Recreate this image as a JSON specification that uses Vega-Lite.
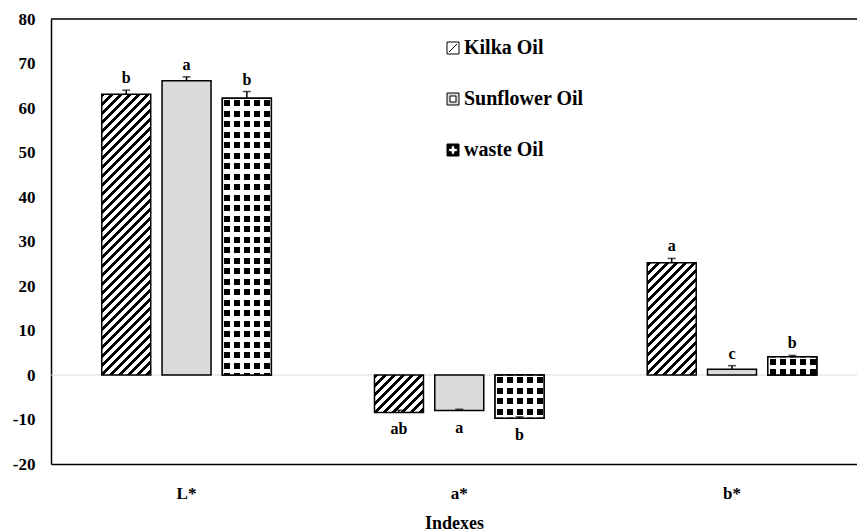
{
"$schema":"https://vega.github.io/schema/vega-lite/v6.json",
"width":806,"height":445,
"autosize":{"type":"none"},
"padding":{"left":51,"top":19,"right":0,"bottom":68},
"background":"white",
"config":{"view":{"stroke":null},"font":"Liberation Serif",
"axisX":{"domainColor":"black","domainWidth":1.5,"ticks":false,"tickSize":0,"labelFontSize":17,"labelFontWeight":"bold","labelColor":"black","labelPadding":21,"labelAngle":0,"titleFontSize":18,"titleFontWeight":"bold","titleColor":"black","titlePadding":13,"grid":false},
"axisY":{"domainColor":"black","domainWidth":1.5,"ticks":false,"tickSize":0,"labelFontSize":17,"labelFontWeight":"bold","labelColor":"black","labelPadding":16,"grid":false}},
"params":[
{"name":"hatch","value":[
{"offset":0,"color":"#000"},{"offset":0.011,"color":"#000"},{"offset":0.011,"color":"#fff"},{"offset":0.025,"color":"#fff"},
{"offset":0.025,"color":"#000"},{"offset":0.036,"color":"#000"},{"offset":0.036,"color":"#fff"},{"offset":0.05,"color":"#fff"},
{"offset":0.05,"color":"#000"},{"offset":0.061,"color":"#000"},{"offset":0.061,"color":"#fff"},{"offset":0.075,"color":"#fff"},
{"offset":0.075,"color":"#000"},{"offset":0.086,"color":"#000"},{"offset":0.086,"color":"#fff"},{"offset":0.1,"color":"#fff"},
{"offset":0.1,"color":"#000"},{"offset":0.111,"color":"#000"},{"offset":0.111,"color":"#fff"},{"offset":0.125,"color":"#fff"},
{"offset":0.125,"color":"#000"},{"offset":0.136,"color":"#000"},{"offset":0.136,"color":"#fff"},{"offset":0.15,"color":"#fff"},
{"offset":0.15,"color":"#000"},{"offset":0.161,"color":"#000"},{"offset":0.161,"color":"#fff"},{"offset":0.175,"color":"#fff"},
{"offset":0.175,"color":"#000"},{"offset":0.186,"color":"#000"},{"offset":0.186,"color":"#fff"},{"offset":0.2,"color":"#fff"},
{"offset":0.2,"color":"#000"},{"offset":0.211,"color":"#000"},{"offset":0.211,"color":"#fff"},{"offset":0.225,"color":"#fff"},
{"offset":0.225,"color":"#000"},{"offset":0.236,"color":"#000"},{"offset":0.236,"color":"#fff"},{"offset":0.25,"color":"#fff"},
{"offset":0.25,"color":"#000"},{"offset":0.261,"color":"#000"},{"offset":0.261,"color":"#fff"},{"offset":0.275,"color":"#fff"},
{"offset":0.275,"color":"#000"},{"offset":0.286,"color":"#000"},{"offset":0.286,"color":"#fff"},{"offset":0.3,"color":"#fff"},
{"offset":0.3,"color":"#000"},{"offset":0.311,"color":"#000"},{"offset":0.311,"color":"#fff"},{"offset":0.325,"color":"#fff"},
{"offset":0.325,"color":"#000"},{"offset":0.336,"color":"#000"},{"offset":0.336,"color":"#fff"},{"offset":0.35,"color":"#fff"},
{"offset":0.35,"color":"#000"},{"offset":0.361,"color":"#000"},{"offset":0.361,"color":"#fff"},{"offset":0.375,"color":"#fff"},
{"offset":0.375,"color":"#000"},{"offset":0.386,"color":"#000"},{"offset":0.386,"color":"#fff"},{"offset":0.4,"color":"#fff"},
{"offset":0.4,"color":"#000"},{"offset":0.411,"color":"#000"},{"offset":0.411,"color":"#fff"},{"offset":0.425,"color":"#fff"},
{"offset":0.425,"color":"#000"},{"offset":0.436,"color":"#000"},{"offset":0.436,"color":"#fff"},{"offset":0.45,"color":"#fff"},
{"offset":0.45,"color":"#000"},{"offset":0.461,"color":"#000"},{"offset":0.461,"color":"#fff"},{"offset":0.475,"color":"#fff"},
{"offset":0.475,"color":"#000"},{"offset":0.486,"color":"#000"},{"offset":0.486,"color":"#fff"},{"offset":0.5,"color":"#fff"},
{"offset":0.5,"color":"#000"},{"offset":0.511,"color":"#000"},{"offset":0.511,"color":"#fff"},{"offset":0.525,"color":"#fff"},
{"offset":0.525,"color":"#000"},{"offset":0.536,"color":"#000"},{"offset":0.536,"color":"#fff"},{"offset":0.55,"color":"#fff"},
{"offset":0.55,"color":"#000"},{"offset":0.561,"color":"#000"},{"offset":0.561,"color":"#fff"},{"offset":0.575,"color":"#fff"},
{"offset":0.575,"color":"#000"},{"offset":0.586,"color":"#000"},{"offset":0.586,"color":"#fff"},{"offset":0.6,"color":"#fff"},
{"offset":0.6,"color":"#000"},{"offset":0.611,"color":"#000"},{"offset":0.611,"color":"#fff"},{"offset":0.625,"color":"#fff"},
{"offset":0.625,"color":"#000"},{"offset":0.636,"color":"#000"},{"offset":0.636,"color":"#fff"},{"offset":0.65,"color":"#fff"},
{"offset":0.65,"color":"#000"},{"offset":0.661,"color":"#000"},{"offset":0.661,"color":"#fff"},{"offset":0.675,"color":"#fff"},
{"offset":0.675,"color":"#000"},{"offset":0.686,"color":"#000"},{"offset":0.686,"color":"#fff"},{"offset":0.7,"color":"#fff"},
{"offset":0.7,"color":"#000"},{"offset":0.711,"color":"#000"},{"offset":0.711,"color":"#fff"},{"offset":0.725,"color":"#fff"},
{"offset":0.725,"color":"#000"},{"offset":0.736,"color":"#000"},{"offset":0.736,"color":"#fff"},{"offset":0.75,"color":"#fff"},
{"offset":0.75,"color":"#000"},{"offset":0.761,"color":"#000"},{"offset":0.761,"color":"#fff"},{"offset":0.775,"color":"#fff"},
{"offset":0.775,"color":"#000"},{"offset":0.786,"color":"#000"},{"offset":0.786,"color":"#fff"},{"offset":0.8,"color":"#fff"},
{"offset":0.8,"color":"#000"},{"offset":0.811,"color":"#000"},{"offset":0.811,"color":"#fff"},{"offset":0.825,"color":"#fff"},
{"offset":0.825,"color":"#000"},{"offset":0.836,"color":"#000"},{"offset":0.836,"color":"#fff"},{"offset":0.85,"color":"#fff"},
{"offset":0.85,"color":"#000"},{"offset":0.861,"color":"#000"},{"offset":0.861,"color":"#fff"},{"offset":0.875,"color":"#fff"},
{"offset":0.875,"color":"#000"},{"offset":0.886,"color":"#000"},{"offset":0.886,"color":"#fff"},{"offset":0.9,"color":"#fff"},
{"offset":0.9,"color":"#000"},{"offset":0.911,"color":"#000"},{"offset":0.911,"color":"#fff"},{"offset":0.925,"color":"#fff"},
{"offset":0.925,"color":"#000"},{"offset":0.936,"color":"#000"},{"offset":0.936,"color":"#fff"},{"offset":1,"color":"#fff"}
]},
{"name":"rows","value":[
{"offset":0,"color":"#fff"},{"offset":0.007,"color":"#fff"},
{"offset":0.007,"color":"#000"},{"offset":0.027,"color":"#000"},{"offset":0.027,"color":"#fff"},{"offset":0.042,"color":"#fff"},
{"offset":0.042,"color":"#000"},{"offset":0.062,"color":"#000"},{"offset":0.062,"color":"#fff"},{"offset":0.077,"color":"#fff"},
{"offset":0.077,"color":"#000"},{"offset":0.097,"color":"#000"},{"offset":0.097,"color":"#fff"},{"offset":0.112,"color":"#fff"},
{"offset":0.112,"color":"#000"},{"offset":0.132,"color":"#000"},{"offset":0.132,"color":"#fff"},{"offset":0.147,"color":"#fff"},
{"offset":0.147,"color":"#000"},{"offset":0.167,"color":"#000"},{"offset":0.167,"color":"#fff"},{"offset":0.182,"color":"#fff"},
{"offset":0.182,"color":"#000"},{"offset":0.202,"color":"#000"},{"offset":0.202,"color":"#fff"},{"offset":0.217,"color":"#fff"},
{"offset":0.217,"color":"#000"},{"offset":0.237,"color":"#000"},{"offset":0.237,"color":"#fff"},{"offset":0.252,"color":"#fff"},
{"offset":0.252,"color":"#000"},{"offset":0.272,"color":"#000"},{"offset":0.272,"color":"#fff"},{"offset":0.287,"color":"#fff"},
{"offset":0.287,"color":"#000"},{"offset":0.307,"color":"#000"},{"offset":0.307,"color":"#fff"},{"offset":0.322,"color":"#fff"},
{"offset":0.322,"color":"#000"},{"offset":0.342,"color":"#000"},{"offset":0.342,"color":"#fff"},{"offset":0.357,"color":"#fff"},
{"offset":0.357,"color":"#000"},{"offset":0.377,"color":"#000"},{"offset":0.377,"color":"#fff"},{"offset":0.392,"color":"#fff"},
{"offset":0.392,"color":"#000"},{"offset":0.412,"color":"#000"},{"offset":0.412,"color":"#fff"},{"offset":0.427,"color":"#fff"},
{"offset":0.427,"color":"#000"},{"offset":0.447,"color":"#000"},{"offset":0.447,"color":"#fff"},{"offset":0.462,"color":"#fff"},
{"offset":0.462,"color":"#000"},{"offset":0.482,"color":"#000"},{"offset":0.482,"color":"#fff"},{"offset":0.497,"color":"#fff"},
{"offset":0.497,"color":"#000"},{"offset":0.517,"color":"#000"},{"offset":0.517,"color":"#fff"},{"offset":0.532,"color":"#fff"},
{"offset":0.532,"color":"#000"},{"offset":0.552,"color":"#000"},{"offset":0.552,"color":"#fff"},{"offset":0.567,"color":"#fff"},
{"offset":0.567,"color":"#000"},{"offset":0.587,"color":"#000"},{"offset":0.587,"color":"#fff"},{"offset":0.602,"color":"#fff"},
{"offset":0.602,"color":"#000"},{"offset":0.622,"color":"#000"},{"offset":0.622,"color":"#fff"},{"offset":0.637,"color":"#fff"},
{"offset":0.637,"color":"#000"},{"offset":0.657,"color":"#000"},{"offset":0.657,"color":"#fff"},{"offset":0.672,"color":"#fff"},
{"offset":0.672,"color":"#000"},{"offset":0.692,"color":"#000"},{"offset":0.692,"color":"#fff"},{"offset":0.707,"color":"#fff"},
{"offset":0.707,"color":"#000"},{"offset":0.727,"color":"#000"},{"offset":0.727,"color":"#fff"},{"offset":0.742,"color":"#fff"},
{"offset":0.742,"color":"#000"},{"offset":0.762,"color":"#000"},{"offset":0.762,"color":"#fff"},{"offset":0.777,"color":"#fff"},
{"offset":0.777,"color":"#000"},{"offset":0.797,"color":"#000"},{"offset":0.797,"color":"#fff"},{"offset":0.812,"color":"#fff"},
{"offset":0.812,"color":"#000"},{"offset":0.832,"color":"#000"},{"offset":0.832,"color":"#fff"},{"offset":0.847,"color":"#fff"},
{"offset":0.847,"color":"#000"},{"offset":0.867,"color":"#000"},{"offset":0.867,"color":"#fff"},{"offset":0.882,"color":"#fff"},
{"offset":0.882,"color":"#000"},{"offset":0.902,"color":"#000"},{"offset":0.902,"color":"#fff"},{"offset":0.917,"color":"#fff"},
{"offset":0.917,"color":"#000"},{"offset":0.937,"color":"#000"},{"offset":0.937,"color":"#fff"},{"offset":1,"color":"#fff"}
]}
],
"data":{"values":[
{"index":"L*","oil":"Kilka Oil","value":63.1,"err":0.9,"label":"b"},
{"index":"L*","oil":"Sunflower Oil","value":66.1,"err":0.9,"label":"a"},
{"index":"L*","oil":"waste Oil","value":62.2,"err":1.5,"label":"b"},
{"index":"a*","oil":"Kilka Oil","value":-8.4,"err":0.5,"label":"ab"},
{"index":"a*","oil":"Sunflower Oil","value":-8.0,"err":0.3,"label":"a"},
{"index":"a*","oil":"waste Oil","value":-9.7,"err":0.3,"label":"b"},
{"index":"b*","oil":"Kilka Oil","value":25.2,"err":1.0,"label":"a"},
{"index":"b*","oil":"Sunflower Oil","value":1.3,"err":0.8,"label":"c"},
{"index":"b*","oil":"waste Oil","value":4.1,"err":0.3,"label":"b"}
]},
"layer":[
{"data":{"values":[{"z":0}]},"mark":{"type":"rule","color":"#d9d9d9","strokeWidth":1},
 "encoding":{"y":{"datum":0,"type":"quantitative","title":null,"scale":{"domain":[-20,80],"nice":false,"zero":false},"axis":{"title":null,"values":[-20,-10,0,10,20,30,40,50,60,70,80],"labelExpr":"'' + datum.value"}}}},
{"transform":[{"calculate":"datum.value + datum.err","as":"hi"}],
 "encoding":{
  "x":{"field":"index","type":"nominal","sort":["L*","a*","b*"],"scale":{"paddingInner":0.3782,"paddingOuter":0.1667,"align":0.558},"axis":{"title":"Indexes"}},
  "xOffset":{"field":"oil","type":"nominal","sort":["Kilka Oil","Sunflower Oil","waste Oil"],"scale":{"domain":["Kilka Oil","Sunflower Oil","waste Oil"],"paddingInner":0.1874,"paddingOuter":0}}
 },
 "layer":[
  {"mark":{"type":"bar","stroke":"black","strokeWidth":1.5},
   "encoding":{
    "y":{"field":"value","type":"quantitative","stack":null,"title":null,"scale":{"domain":[-20,80],"nice":false,"zero":false},"axis":{"title":null,"values":[-20,-10,0,10,20,30,40,50,60,70,80],"labelExpr":"'' + datum.value"}},
    "fill":{"field":"oil","type":"nominal",
     "scale":{"domain":["Kilka Oil","Sunflower Oil","waste Oil"],"range":["#ffffff","#dadada","#000000"]},
     "legend":{"title":null,"orient":"none","legendX":392,"legendY":19,"symbolSize":144,"labelFontSize":20,"labelFont":"Liberation Serif","labelFontWeight":"bold","labelColor":"black","rowPadding":31,"labelOffset":1,"padding":0,"symbolStrokeWidth":1,"symbolStrokeColor":"black",
      "encode":{"symbols":{"update":{
       "shape":[{"test":"datum.value === 'Kilka Oil'","value":"M-1,-1H1V1H-1Z M-0.65,0.65L0.65,-0.65"},{"test":"datum.value === 'Sunflower Oil'","value":"M-1,-1H1V1H-1Z M-0.5,-0.5V0.5H0.5V-0.5Z"},{"value":"M-1,-1H1V1H-1Z M-0.28,-0.72L-0.28,-0.28L-0.72,-0.28L-0.72,0.28L-0.28,0.28L-0.28,0.72L0.28,0.72L0.28,0.28L0.72,0.28L0.72,-0.28L0.28,-0.28L0.28,-0.72Z"}],
       "fill":[{"test":"datum.value === 'Kilka Oil'","value":"#ffffff"},{"value":"#000000"}],
       "stroke":{"value":"black"},"strokeWidth":{"value":1}}}}},
     "condition":[
      {"test":"datum.oil === 'Kilka Oil'","value":{"expr":"{gradient:'linear',x1:0,y1:0,x2:360*49/(2401+pow(abs(datum.value)*4.45,2)),y2:360*abs(datum.value)*4.45/(2401+pow(abs(datum.value)*4.45,2)),stops:hatch}"}},
      {"test":"datum.oil === 'waste Oil'","value":{"expr":"{gradient:'linear',x1:0.5,y1:0,x2:0.5,y2:300/(abs(datum.value)*4.45),stops:rows}"}}
     ]}
   }},
  {"transform":[{"filter":"datum.oil === 'waste Oil'"}],
   "mark":{"type":"bar","stroke":"black","strokeWidth":1.5,
    "fill":{"gradient":"linear","x1":0,"y1":0.5,"x2":1,"y2":0.5,"stops":[
     {"offset":0,"color":"#ffffff"},{"offset":0.0408,"color":"#ffffff"},{"offset":0.0408,"color":"rgba(255,255,255,0)"},{"offset":0.1633,"color":"rgba(255,255,255,0)"},
     {"offset":0.1633,"color":"#ffffff"},{"offset":0.2449,"color":"#ffffff"},{"offset":0.2449,"color":"rgba(255,255,255,0)"},{"offset":0.3673,"color":"rgba(255,255,255,0)"},
     {"offset":0.3673,"color":"#ffffff"},{"offset":0.449,"color":"#ffffff"},{"offset":0.449,"color":"rgba(255,255,255,0)"},{"offset":0.5714,"color":"rgba(255,255,255,0)"},
     {"offset":0.5714,"color":"#ffffff"},{"offset":0.6531,"color":"#ffffff"},{"offset":0.6531,"color":"rgba(255,255,255,0)"},{"offset":0.7755,"color":"rgba(255,255,255,0)"},
     {"offset":0.7755,"color":"#ffffff"},{"offset":0.8571,"color":"#ffffff"},{"offset":0.8571,"color":"rgba(255,255,255,0)"},{"offset":0.9796,"color":"rgba(255,255,255,0)"},
     {"offset":0.9796,"color":"#ffffff"},{"offset":1,"color":"#ffffff"}]}},
   "encoding":{"y":{"field":"value","type":"quantitative","stack":null,"title":null}}},
  {"mark":{"type":"rule","color":"black","strokeWidth":1.5},
   "encoding":{"y":{"field":"value","type":"quantitative","title":null},"y2":{"field":"hi"}}},
  {"mark":{"type":"tick","color":"black","thickness":1.5,"size":8},
   "encoding":{"y":{"field":"hi","type":"quantitative","title":null}}},
  {"transform":[{"filter":"datum.value > 0"}],
   "mark":{"type":"text","font":"Liberation Serif","fontSize":16,"fontWeight":"bold","color":"black","baseline":"alphabetic","dy":-7},
   "encoding":{"y":{"field":"hi","type":"quantitative","title":null},"text":{"field":"label"}}},
  {"transform":[{"filter":"datum.value < 0"}],
   "mark":{"type":"text","font":"Liberation Serif","fontSize":16,"fontWeight":"bold","color":"black","baseline":"alphabetic","dy":22},
   "encoding":{"y":{"field":"value","type":"quantitative","title":null},"text":{"field":"label"}}}
 ]},
{"data":{"values":[{"z":80}]},"mark":{"type":"rule","color":"black","strokeWidth":1.5},
 "encoding":{"y":{"datum":80,"type":"quantitative","title":null}}}
]
}
